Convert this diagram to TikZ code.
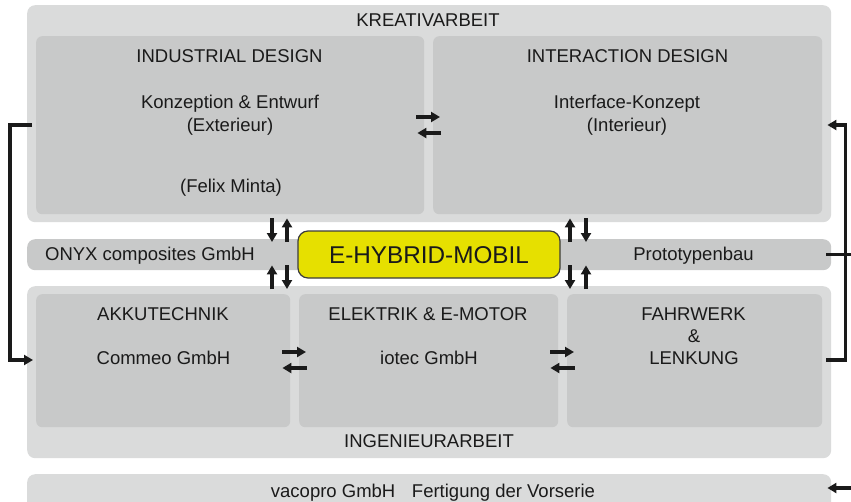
\documentclass[tikz,border=0pt]{standalone}
\usepackage{fontspec}
\setmainfont{Liberation Sans}
\usetikzlibrary{arrows.meta,calc}
\definecolor{outerg}{HTML}{DADBDB}
\definecolor{innerg}{HTML}{C8C9C9}
\definecolor{ybox}{HTML}{E6E000}
\definecolor{ink}{HTML}{1A1A1A}
\tikzset{
  outerbox/.style={fill=outerg, rounded corners=8pt, anchor=north west, inner sep=0pt},
  innerbox/.style={fill=innerg, rounded corners=6pt, anchor=north west, inner sep=0pt},
  bandbox/.style={fill=innerg, rounded corners=8pt, anchor=north west, inner sep=0pt},
  hybridbox/.style={fill=ybox, draw=ink!85, line width=1.2pt, rounded corners=10pt, inner sep=0pt},
  lbl/.style={text=ink, font=\fontsize{18.5}{22}\selectfont, inner sep=0pt, anchor=base},
  biglbl/.style={text=ink, font=\fontsize{24.3}{28}\selectfont, inner sep=0pt, anchor=base},
  arr/.style={draw=ink, line width=3.4pt, -{Triangle[length=9pt,width=10pt]}},
  bracket/.style={draw=ink, line width=3.4pt},
}
\begin{document}
\begin{tikzpicture}[x=1pt,y=-1pt]
\useasboundingbox (0,0) rectangle (851,501);
% boxes
\node[outerbox, minimum width=804pt, minimum height=217pt] (kreativ) at (27,5) {};
\node[innerbox, minimum width=388pt, minimum height=178pt] (ind) at (36,36) {};
\node[innerbox, minimum width=389pt, minimum height=178pt] (int) at (433,36) {};
\node[bandbox, minimum width=804pt, minimum height=31pt] (band) at (27,239) {};
\node[outerbox, minimum width=804pt, minimum height=172pt] (ingen) at (27,286) {};
\node[innerbox, minimum width=254pt, minimum height=133pt] (akku) at (36,294) {};
\node[innerbox, minimum width=259pt, minimum height=133pt] (elek) at (299,294) {};
\node[innerbox, minimum width=255pt, minimum height=133pt] (fahr) at (567,294) {};
\node[outerbox, minimum width=804pt, minimum height=45pt] (vaco) at (27,474) {};
\node[hybridbox, minimum width=262pt, minimum height=47pt] (hybrid) at (429,254.5) {};
% labels
\node[lbl] (tkreativ) at (428,26.5) {KREATIVARBEIT};
\node[lbl] (tind) at (229.5,62) {INDUSTRIAL DESIGN};
\node[lbl] (tind1) at (230,108.5) {Konzeption \& Entwurf};
\node[lbl] (tind2) at (230,131.5) {(Exterieur)};
\node[lbl] (tind3) at (231,192.5) {(Felix Minta)};
\node[lbl] (tint) at (627.5,62) {INTERACTION DESIGN};
\node[lbl] (tint1) at (627,108.5) {Interface-Konzept};
\node[lbl] (tint2) at (627,131.5) {(Interieur)};
\node[lbl] (tonyx) at (150,260.5) {ONYX composites GmbH};
\node[lbl] (tproto) at (693.5,260.5) {Prototypenbau};
\node[biglbl] (thybrid) at (429,263) {E-HYBRID-MOBIL};
\node[lbl] (takku) at (163,320.5) {AKKUTECHNIK};
\node[lbl] (takku1) at (163.5,364.5) {Commeo GmbH};
\node[lbl] (telek) at (428,320.5) {ELEKTRIK \& E-MOTOR};
\node[lbl] (telek1) at (429,364.5) {iotec GmbH};
\node[lbl] (tfahr) at (693.5,320.5) {FAHRWERK};
\node[lbl] (tfahr1) at (694,342.5) {\&};
\node[lbl] (tfahr2) at (694,364.5) {LENKUNG};
\node[lbl] (tingen) at (429,447.5) {INGENIEURARBEIT};
\node[lbl] (tvaco) at (433,497.5) {vacopro GmbH\hspace{0.9em}Fertigung der Vorserie};
% horizontal arrows top
\draw[arr] ([shift={(-8,81)}]ind.north east) -- ([shift={(7,81)}]int.north west);
\draw[arr] ([shift={(8,97)}]int.north west) -- ([shift={(-7,97)}]ind.north east);
% horizontal arrows bottom
\draw[arr] ([shift={(-8,58)}]akku.north east) -- ([shift={(7,58)}]elek.north west);
\draw[arr] ([shift={(8,74)}]elek.north west) -- ([shift={(-8,74)}]akku.north east);
\draw[arr] ([shift={(-8,58)}]elek.north east) -- ([shift={(7,58)}]fahr.north west);
\draw[arr] ([shift={(8,74)}]fahr.north west) -- ([shift={(-8,74)}]elek.north east);
% vertical arrows left pair (x 272, 287)
\draw[arr] ([shift={(236,4)}]ind.south west) -- ([shift={(245,3)}]band.north west);
\draw[arr] ([shift={(260,3)}]band.north west) -- ([shift={(251,4)}]ind.south west);
\draw[arr] ([shift={(236,-5)}]akku.north west) -- ([shift={(245,-5)}]band.south west);
\draw[arr] ([shift={(260,-5)}]band.south west) -- ([shift={(251,-5)}]akku.north west);
% vertical arrows right pair (x 570, 586)
\draw[arr] ([shift={(543,3)}]band.north west) -- ([shift={(137,4)}]int.south west);
\draw[arr] ([shift={(153,4)}]int.south west) -- ([shift={(559,3)}]band.north west);
\draw[arr] ([shift={(543,-5)}]band.south west) -- ([shift={(3,-5)}]fahr.north west);
\draw[arr] ([shift={(19,-5)}]fahr.north west) -- ([shift={(559,-5)}]band.south west);
% brackets
\draw[arr] ([shift={(-4,89)}]ind.north west) -- ++(-22,0) |- ([shift={(-3,66)}]akku.north west);
\draw[arr] ([shift={(4,66)}]fahr.north east) -- ++(19,0) |- ([shift={(5,89)}]int.north east);
\draw[bracket] ([xshift=-5pt]band.east) -- ++(25,0);
\draw[arr] ([shift={(20,14)}]vaco.north east) -- ([shift={(-4,14)}]vaco.north east);
\end{tikzpicture}
\end{document}
